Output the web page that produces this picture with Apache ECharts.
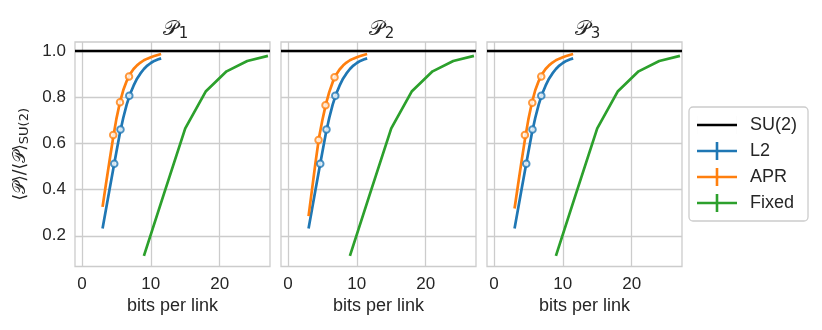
<!DOCTYPE html>
<html>
<head>
<meta charset="utf-8">
<script src="https://cdn.jsdelivr.net/npm/echarts@6/dist/echarts.min.js"></script>
<style>
html,body{margin:0;padding:0;background:#fff;}
#chart{width:822px;height:330px;}
</style>
</head>
<body>
<div id="chart"></div>
<script>
// ---- data ----
const panelTitles = ['1', '2', '3'];
const xTicks = [0, 10, 20];
const yTicks = [0.2, 0.4, 0.6, 0.8, 1.0];
const su2Level = 1.0;
const curveBits = [3.0, 3.5, 4.0, 4.5, 5.0, 5.5, 6.0, 6.5, 7.0, 7.5, 8.0, 8.5, 9.0, 9.5, 10.0, 10.5, 11.0, 11.5];
const l2Curve = [0.232, 0.315, 0.398, 0.48, 0.562, 0.642, 0.71, 0.768, 0.814, 0.85, 0.88, 0.903, 0.922, 0.937, 0.948, 0.957, 0.963, 0.968];
const aprCurveP1 = [0.325, 0.425, 0.523, 0.618, 0.705, 0.775, 0.83, 0.87, 0.9, 0.922, 0.938, 0.95, 0.96, 0.967, 0.973, 0.978, 0.983, 0.987];
const aprCurveP2 = [0.285, 0.4, 0.515, 0.622, 0.7, 0.768, 0.822, 0.865, 0.897, 0.92, 0.937, 0.95, 0.96, 0.967, 0.973, 0.978, 0.983, 0.987];
const aprCurveP3 = [0.318, 0.42, 0.52, 0.616, 0.703, 0.774, 0.83, 0.87, 0.9, 0.922, 0.938, 0.95, 0.96, 0.967, 0.973, 0.978, 0.983, 0.987];
const l2MarkerBits = [4.7, 5.6, 6.88];
const l2Markers = [0.512, 0.66, 0.806];
const aprMarkerBitsP1 = [4.55, 5.53, 6.84];
const aprMarkersP1 = [0.636, 0.778, 0.89];
const aprMarkerBitsP2 = [4.45, 5.46, 6.77];
const aprMarkersP2 = [0.615, 0.765, 0.886];
const aprMarkerBitsP3 = [4.5, 5.57, 6.87];
const aprMarkersP3 = [0.636, 0.776, 0.89];
const fixedBits = [9, 12, 15, 18, 21, 24, 27];
const fixedValues = [0.113, 0.39, 0.665, 0.826, 0.912, 0.957, 0.979];
const xRange = [-1, 27.3];
const yRange = [0.067, 1.039];

const aprCurves = [aprCurveP1, aprCurveP2, aprCurveP3];
const aprMarkerBits = [aprMarkerBitsP1, aprMarkerBitsP2, aprMarkerBitsP3];
const aprMarkers = [aprMarkersP1, aprMarkersP2, aprMarkersP3];

// ---- style ----
const C_L2 = '#1f77b4', C_APR = '#ff7f0e', C_FIX = '#2ca02c', C_SU = '#000000';
const GRID_C = '#cccccc';
const TXT = '#262626';
const FONT = '"Liberation Sans", Arial, sans-serif';
const gridLefts = [75, 281, 487];
const gridW = 195, gridTop = 42, gridH = 224.5;

const zip = (xs, ys) => xs.map((x, i) => [x, ys[i]]);

const grids = [], xAxes = [], yAxes = [], series = [], titles = [];
for (let i = 0; i < 3; i++) {
  grids.push({left: gridLefts[i], top: gridTop, width: gridW, height: gridH, show: true,
    borderColor: GRID_C, borderWidth: 1.3, backgroundColor: 'transparent'});
  xAxes.push({type: 'value', gridIndex: i, min: xRange[0], max: xRange[1],
    name: 'bits per link', nameLocation: 'middle', nameGap: 31,
    nameTextStyle: {fontFamily: FONT, fontSize: 18, color: TXT},
    axisLine: {show: false}, axisTick: {show: false, customValues: xTicks},
    axisLabel: {customValues: xTicks, fontFamily: FONT, fontSize: 17, color: TXT, margin: 9},
    splitLine: {show: true, lineStyle: {color: GRID_C, width: 1.3}}});
  yAxes.push({type: 'value', gridIndex: i, min: yRange[0], max: yRange[1],
    name: i === 0 ? '⟨𝒫⟩/⟨𝒫⟩{sub|SU(2)}' : '', nameLocation: 'middle', nameGap: 44, nameRotate: 90,
    nameTextStyle: {fontFamily: '"DejaVu Sans", sans-serif', fontSize: 17, color: TXT,
      rich: {sub: {fontFamily: '"DejaVu Sans", sans-serif', fontSize: 13, color: TXT, verticalAlign: 'bottom', padding: [8, 0, 0, 0]}}},
    axisLine: {show: false}, axisTick: {show: false, customValues: yTicks},
    axisLabel: {show: i === 0, customValues: yTicks, fontFamily: FONT, fontSize: 17, color: TXT, margin: 9,
      formatter: v => v.toFixed(1)},
    splitLine: {show: true, lineStyle: {color: GRID_C, width: 1.3}}});
  titles.push({text: '𝒫{sub|' + panelTitles[i] + '}', left: gridLefts[i] + gridW / 2 - 2, top: 12, textAlign: 'center',
    textStyle: {fontFamily: '"DejaVu Serif", serif', fontSize: 21, fontWeight: 'normal', color: TXT,
      rich: {sub: {fontFamily: '"DejaVu Sans", sans-serif', fontSize: 15, color: TXT, padding: [10, 0, 0, 1]}}}});

  const lineBase = {type: 'line', xAxisIndex: i, yAxisIndex: i, showSymbol: false, symbol: 'none',
    clip: true, silent: true, animation: false};
  series.push(Object.assign({}, lineBase, {name: 'Fixed', data: zip(fixedBits, fixedValues),
    lineStyle: {color: C_FIX, width: 2.7}, itemStyle: {color: C_FIX}, z: 3}));
  series.push(Object.assign({}, lineBase, {name: 'L2', data: zip(curveBits, l2Curve),
    lineStyle: {color: C_L2, width: 2.7}, itemStyle: {color: C_L2}, z: 4}));
  series.push(Object.assign({}, lineBase, {name: 'APR', data: zip(curveBits, aprCurves[i]),
    lineStyle: {color: C_APR, width: 2.7}, itemStyle: {color: C_APR}, z: 5}));
  series.push({type: 'scatter', name: 'L2', xAxisIndex: i, yAxisIndex: i, data: zip(l2MarkerBits, l2Markers),
    symbol: 'emptyCircle', symbolSize: 6.5, itemStyle: {color: C_L2, borderColor: C_L2, borderWidth: 1.8}, z: 6, silent: true, animation: false});
  series.push({type: 'scatter', name: 'APR', xAxisIndex: i, yAxisIndex: i, data: zip(aprMarkerBits[i], aprMarkers[i]),
    symbol: 'emptyCircle', symbolSize: 6.5, itemStyle: {color: C_APR, borderColor: C_APR, borderWidth: 1.8}, z: 6, silent: true, animation: false});
  series.push(Object.assign({}, lineBase, {name: 'SU(2)', data: [[xRange[0], su2Level], [xRange[1], su2Level]],
    lineStyle: {color: C_SU, width: 2.4}, itemStyle: {color: C_SU}, z: 7}));
}

const iconLine = 'path://M0,0h0.01v18h-0.01z M0,7.7h40v2.6h-40z M39.99,0h0.01v18h-0.01z';
const iconPlus = 'path://M0,7.7h40v2.6h-40z M18.7,0h2.6v18h-2.6z';

const option = {
  backgroundColor: '#ffffff',
  animation: false,
  title: titles,
  grid: grids,
  xAxis: xAxes,
  yAxis: yAxes,
  legend: {
    orient: 'vertical', left: 689, top: 107,
    backgroundColor: '#ffffff', borderColor: GRID_C, borderWidth: 1.3, borderRadius: 4,
    padding: [9, 11, 9, 8], itemWidth: 40, itemHeight: 18, itemGap: 8,
    selectedMode: false,
    textStyle: {fontFamily: FONT, fontSize: 18, color: TXT, padding: [0, 0, 0, 8]},
    data: [
      {name: 'SU(2)', icon: iconLine, itemStyle: {color: C_SU, borderWidth: 0}},
      {name: 'L2', icon: iconPlus, itemStyle: {color: C_L2, borderWidth: 0}},
      {name: 'APR', icon: iconPlus, itemStyle: {color: C_APR, borderWidth: 0}},
      {name: 'Fixed', icon: iconPlus, itemStyle: {color: C_FIX, borderWidth: 0}}
    ]
  },
  series: series
};

const chart = echarts.init(document.getElementById('chart'), null, {renderer: 'canvas'});
chart.setOption(option);
</script>
</body>
</html>
